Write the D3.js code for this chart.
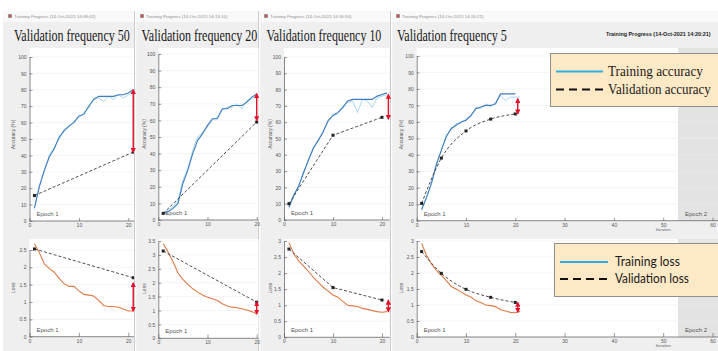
<!DOCTYPE html>
<html><head><meta charset="utf-8">
<script src="https://cdn.jsdelivr.net/npm/d3@7"></script>
<style>html,body{margin:0;padding:0;background:#fff;overflow:hidden}</style>
</head><body>
<svg id="c" width="718" height="351" xmlns="http://www.w3.org/2000/svg"></svg>
<script>
// ---------------- DATA ----------------
const titles = ["Validation frequency 50", "Validation frequency 20", "Validation frequency 10", "Validation frequency 5"];
const windowTitles = ["Training Progress (14-Oct-2021 14:09:02)", "Training Progress (14-Oct-2021 14:13:10)",
                      "Training Progress (14-Oct-2021 14:16:50)", "Training Progress (14-Oct-2021 14:20:21)"];
const headerTitle = "Training Progress (14-Oct-2021 14:20:21)";
const accTicks = [0,10,20,30,40,50,60,70,80,90,100];
const lossTicks25 = [0,0.5,1,1.5,2,2.5];
const lossTicks35 = [0,0.5,1,1.5,2,2.5,3,3.5];
const lossTicks30 = [0,0.5,1,1.5,2,2.5,3];
const xTicksShort = [0,10,20];
const xTicksLong = [0,10,20,30,40,50,60];
const epoch1End = 53;

const iter20 = [1,2,3,4,5,6,7,8,9,10,11,12,13,14,15,16,17,18,19,20];
const iter21 = [1,2,3,4,5,6,7,8,9,10,11,12,13,14,15,16,17,18,19,20,21];

// Validation frequency 50
const trainAcc50    = [8,21,31,39,44,51,55,58,60,64,65,70,74,76,76,76,76,77,77,78,80];
const trainAccRaw50 = [7,22,30,40,45,50,56,57,61,63,66,69,75,75,73,76,74,77,75,77,79];
const valIter50 = [1,21];
const valAcc50  = [15.5,42];
const trainLoss50 = [2.68,2.42,2.1,1.97,1.86,1.68,1.53,1.45,1.45,1.32,1.22,1.2,1.17,1.05,0.9,0.87,0.87,0.85,0.8,0.74,0.74];
const valLoss50 = [2.53,1.7];
const gapAcc50 = [21,80,42], gapLoss50 = [21,1.55,0.74];

// Validation frequency 20
const trainAcc20    = [4,5,7,10,22,30,40,48,52,57,61,61,67,67,69,69,69,71,74,76];
const trainAccRaw20 = [4,6,8,12,24,31,42,50,53,56,60,62,66,68,68,70,67,72,73,75];
const valIter20 = [1,20];
const valAcc20  = [4,59];
const trainLoss20 = [3.4,3.1,2.75,2.35,2.12,1.94,1.78,1.66,1.56,1.48,1.42,1.36,1.24,1.16,1.12,1.1,1.06,1.02,0.96,0.88];
const valLoss20 = [3.14,1.3];
const gapAcc20 = [20,76,60], gapLoss20 = [20,1.3,0.88];

// Validation frequency 10
const trainAcc10    = [8,15,21,29,37,44,49,54,61,64,66,69,73,74,74,74,74,74,76,77,78];
const trainAccRaw10 = [7,16,20,30,36,45,48,55,60,65,65,70,72,73,66,74,73,69,75,76,77];
const valIter10 = [1,10,20];
const valAcc10  = [10,52,63];
const trainLoss10 = [2.95,2.6,2.38,2.22,2.05,1.87,1.71,1.56,1.44,1.32,1.25,1.12,1.0,0.98,0.96,0.9,0.87,0.83,0.8,0.78,0.8];
const valLoss10 = [2.75,1.55,1.16];
const gapAcc10 = [21.3,77,62], gapLoss10 = [21.3,1.15,0.8];

// Validation frequency 5
const trainAcc5    = [7,14,23,34,43,51,56,58,60,61,64,68,69,70,70,71,77,77,77,77];
const trainAccRaw5 = [6,15,22,35,42,52,55,59,59,62,63,69,68,71,69,72,76,73,75,75,75];
const valIter5 = [1,5,10,15,20];
const valAcc5  = [10.5,38,54.5,61.7,64.8];
const trainLoss5 = [2.92,2.55,2.28,2.08,1.93,1.76,1.58,1.5,1.41,1.31,1.25,1.13,1.08,1.0,0.98,0.95,0.85,0.81,0.77,0.76,0.8];
const valLoss5 = [2.67,1.99,1.49,1.24,1.08];
const gapAcc5 = [20.5,74,65], gapLoss5 = [20.5,1.08,0.78];

const legendAcc = ["Training accuracy", "Validation accuracy"];
const legendLoss = ["Training loss", "Validation loss"];

// ---------------- LAYOUT ----------------
const frames = [{l:3,r:135},{l:135,r:259},{l:259,r:391},{l:391,r:718}];
const layout = [
  {x0:29.5, x20:128.3, right:134, tY0:221, tY100:57, bY0:336.7, bRef:2.5, bRefY:250, lab:15, titleX:14, titleW:116},
  {x0:158.3, x20:256.7, right:258.5, tY0:220, tY100:54, bY0:338.3, bRef:3.5, bRefY:241, lab:146, titleX:141.5, titleW:116},
  {x0:284, x20:382, right:389.5, tY0:220, tY100:57, bY0:337.3, bRef:3, bRefY:241, lab:272, titleX:266.5, titleW:115},
  {x0:416.7, x20:515.3, right:718, tY0:220.7, tY100:56, bY0:337, bRef:3, bRefY:241, lab:403, titleX:397, titleW:110}
];
const panels = [
  {acc:trainAcc50, raw:trainAccRaw50, accIter:iter21, rawIter:iter21, vI:valIter50, vA:valAcc50, loss:trainLoss50, lossIter:iter21, vL:valLoss50, gA:gapAcc50, gL:gapLoss50, lt:lossTicks25, xt:xTicksShort},
  {acc:trainAcc20, raw:trainAccRaw20, accIter:iter20, rawIter:iter20, vI:valIter20, vA:valAcc20, loss:trainLoss20, lossIter:iter20, vL:valLoss20, gA:gapAcc20, gL:gapLoss20, lt:lossTicks35, xt:xTicksShort},
  {acc:trainAcc10, raw:trainAccRaw10, accIter:iter21, rawIter:iter21, vI:valIter10, vA:valAcc10, loss:trainLoss10, lossIter:iter21, vL:valLoss10, gA:gapAcc10, gL:gapLoss10, lt:lossTicks30, xt:xTicksShort},
  {acc:trainAcc5, raw:trainAccRaw5, accIter:iter20, rawIter:iter21, vI:valIter5, vA:valAcc5, loss:trainLoss5, lossIter:iter21, vL:valLoss5, gA:gapAcc5, gL:gapLoss5, lt:lossTicks30, xt:xTicksLong, last:true}
];

const svg = d3.select("#c");
const defs = svg.append("defs");
defs.append("marker").attr("id","ah").attr("viewBox","0 0 10 10").attr("refX",8).attr("refY",5)
  .attr("markerWidth",3.8).attr("markerHeight",3.8).attr("orient","auto-start-reverse")
  .append("path").attr("d","M0,0L10,5L0,10z").attr("fill","#e5102a");

svg.append("rect").attr("width",718).attr("height",351).attr("fill","#fff");

// windows
frames.forEach((f,i)=>{
  svg.append("rect").attr("x",f.l).attr("y",11).attr("width",f.r-f.l).attr("height",12).attr("fill","#f9f9f9");
  svg.append("rect").attr("x",f.l).attr("y",22).attr("width",f.r-f.l).attr("height",351-22).attr("fill","#efefef");
  svg.append("rect").attr("x",f.l+5).attr("y",14).attr("width",4).attr("height",4).attr("fill","#9a9a9a");
  svg.append("rect").attr("x",f.l+6).attr("y",15).attr("width",2).attr("height",2).attr("fill","#d44");
  svg.append("text").attr("x",f.l+11).attr("y",18.2).text(windowTitles[i])
    .attr("font-family","Liberation Sans").attr("font-size",4.4).attr("fill","#8a8a8a");
  if(i>0){
    svg.append("line").attr("x1",f.l-0.5).attr("x2",f.l-0.5).attr("y1",11).attr("y2",351).attr("stroke","#cdcdcd").attr("stroke-width",1);
    svg.append("line").attr("x1",f.l+0.7).attr("x2",f.l+0.7).attr("y1",11).attr("y2",351).attr("stroke","#fbfbfb").attr("stroke-width",1.4);
  }
});

const fontTick = "Liberation Sans";
function drawPlot(L, P, kind, idx){
  const x = d3.scaleLinear().domain([0,20]).range([L.x0, L.x20]);
  let y, yTop, ticks;
  if(kind==="acc"){ y = d3.scaleLinear().domain([0,100]).range([L.tY0, L.tY100]); yTop = 48; ticks = accTicks; }
  else { y = d3.scaleLinear().domain([0,L.bRef]).range([L.bY0, L.bRefY]); yTop = 239; ticks = P.lt; }
  const y0 = y(0);
  const g = svg.append("g");
  g.append("rect").attr("x",L.x0).attr("y",yTop).attr("width",L.right-L.x0).attr("height",y0-yTop).attr("fill","#fff");
  if(P.last){
    g.append("rect").attr("x",x(epoch1End)).attr("y",yTop).attr("width",L.right-x(epoch1End)).attr("height",y0-yTop).attr("fill","#e3e3e3");
  }
  const cid = "clip"+kind+idx;
  defs.append("clipPath").attr("id",cid).append("rect").attr("x",L.x0).attr("y",yTop).attr("width",L.right-L.x0).attr("height",y0-yTop+1);
  g.selectAll(".gr").data(ticks.slice(1)).join("line").attr("x1",L.x0).attr("x2",L.right)
    .attr("y1",d=>y(d)).attr("y2",d=>y(d)).attr("stroke","#ececec").attr("stroke-width",0.6);
  const ax = g.append("g").attr("transform",`translate(${L.x0},0)`)
    .call(d3.axisLeft(y).tickValues(ticks).tickSizeInner(-3).tickSizeOuter(0).tickPadding(3).tickFormat(d3.format("")));
  const bx = g.append("g").attr("transform",`translate(0,${y0})`)
    .call(d3.axisBottom(x).tickValues(P.xt).tickSizeInner(kind==="acc"?-3:-4).tickSizeOuter(0).tickPadding(2.5));
  [ax,bx].forEach(a=>{
    a.select(".domain").attr("stroke","#555").attr("stroke-width",0.7);
    a.selectAll(".tick line").attr("stroke","#555").attr("stroke-width",0.6);
    a.selectAll(".tick text").attr("font-family",fontTick).attr("font-size",5).attr("fill","#555");
  });
  bx.select(".domain").attr("d",`M${L.x0},0H${L.right}`);
  const lab = kind==="acc" ? "Accuracy (%)" : "Loss";
  const cy = (yTop+y0)/2;
  g.append("text").attr("transform",`translate(${L.lab},${cy}) rotate(-90)`).attr("text-anchor","middle")
    .attr("font-family",fontTick).attr("font-size",5).attr("fill","#555").text(lab);
  if(P.last){
    g.append("text").attr("x",x(50)).attr("y",y0+10).attr("text-anchor","middle").attr("font-family",fontTick)
      .attr("font-size",4.2).attr("fill","#666").text("Iteration");
  }
  g.append("text").attr("x",L.x0+7).attr("y",y0-5).attr("font-family",fontTick).attr("font-size",6).attr("fill","#555").text("Epoch 1");
  if(P.last){
    g.append("text").attr("x",x(epoch1End)+7).attr("y",y0-5).attr("font-family",fontTick).attr("font-size",6).attr("fill","#555").text("Epoch 2");
  }
  const lines = g.append("g").attr("clip-path",`url(#${cid})`);
  const line = d3.line().x(d=>x(d[0])).y(d=>y(d[1]));
  if(kind==="acc"){
    lines.append("path").attr("d",line(P.rawIter.map((it,i)=>[it,P.raw[i]]))).attr("fill","none").attr("stroke","#a9d7f0").attr("stroke-width",1);
    lines.append("path").attr("d",line(P.accIter.map((it,i)=>[it,P.acc[i]]))).attr("fill","none").attr("stroke","#3d7bbd").attr("stroke-width",1.1);
  } else {
    lines.append("path").attr("d",line(P.lossIter.map((it,i)=>[it,P.loss[i]]))).attr("fill","none").attr("stroke","#de7a45").attr("stroke-width",1.1);
  }
  const vv = kind==="acc" ? P.vA : P.vL;
  const vline = P.last ? d3.line().x(d=>x(d[0])).y(d=>y(d[1])).curve(d3.curveMonotoneX) : line;
  const vpts = P.vI.map((it,i)=>[it,vv[i]]);
  lines.append("path").attr("d",vline(vpts)).attr("fill","none").attr("stroke","#3a3a3a").attr("stroke-width",0.9).attr("stroke-dasharray","3,2");
  lines.selectAll(".mk").data(vpts).join("rect").attr("x",d=>x(d[0])-1.5).attr("y",d=>y(d[1])-1.5)
    .attr("width",3).attr("height",3).attr("fill","#222");
  const gap = kind==="acc" ? P.gA : P.gL;
  g.append("line").attr("x1",x(gap[0])).attr("x2",x(gap[0])).attr("y1",y(gap[1])).attr("y2",y(gap[2]))
    .attr("stroke","#e5102a").attr("stroke-width",1.4).attr("marker-start","url(#ah)").attr("marker-end","url(#ah)");
}

// condensed text: real text, horizontally scaled to the measured width
function condensedText(x, y, str, family, size, width, extra){
  const g = svg.append("g");
  const t = g.append("text").attr("x",0).attr("y",0).attr("font-family",family).attr("font-size",size).attr("fill","#1a1a1a").text(str);
  if(extra) extra(t);
  const w = t.node().getComputedTextLength();
  g.attr("transform",`translate(${x},${y}) scale(${width/w},1)`);
  return t;
}

layout.forEach((L,i)=>{
  condensedText(L.titleX, 41, titles[i], "Liberation Serif", 16, L.titleW);
  drawPlot(L, panels[i], "acc", i);
  drawPlot(L, panels[i], "loss", i);
});

condensedText(606, 35.5, headerTitle, "Liberation Sans", 5.5, 105, t=>t.attr("font-weight","bold").attr("fill","#222"));

function legend(box, names, font, fsize, tw, tx, ys, lx1, lx2){
  svg.append("rect").attr("x",box[0]).attr("y",box[1]).attr("width",box[2]).attr("height",box[3])
    .attr("fill","#fde9c6").attr("stroke","#8f8f8f").attr("stroke-width",1);
  svg.append("line").attr("x1",lx1).attr("x2",lx2).attr("y1",ys[0]-4).attr("y2",ys[0]-4).attr("stroke","#2eaee0").attr("stroke-width",2);
  svg.append("line").attr("x1",lx1).attr("x2",lx2).attr("y1",ys[1]-4).attr("y2",ys[1]-4).attr("stroke","#111").attr("stroke-width",2).attr("stroke-dasharray","8,5");
  names.forEach((n,i)=> condensedText(tx, ys[i], n, font, fsize, tw[i]));
}
legend([550.5,53.5,170,53], legendAcc, "Liberation Serif", 14, [95,103], 608, [75.5,93.5], 556, 603);
legend([554.5,243.5,166,53], legendLoss, "Lato", 12.5, [65,74], 615, [266,283], 560, 608);
</script>
</body></html>
